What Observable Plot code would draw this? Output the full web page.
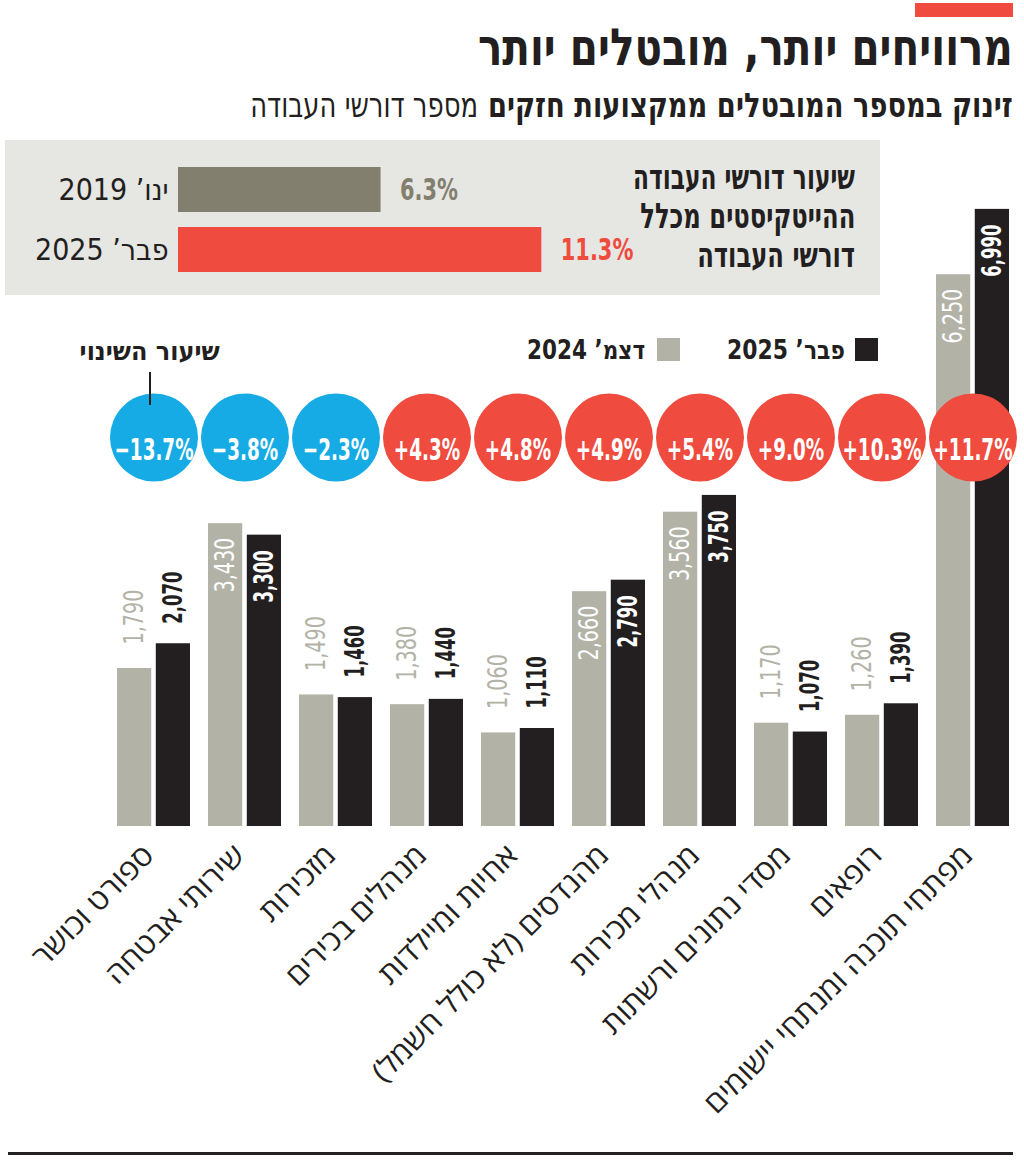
<!DOCTYPE html>
<html><head><meta charset="utf-8">
<script src="https://cdn.jsdelivr.net/npm/d3@7"></script>
<script src="https://cdn.jsdelivr.net/npm/@observablehq/plot@0.6"></script>
<style>
body{margin:0;background:#fff;}
#page{position:relative;width:1024px;height:1160px;overflow:hidden;background:#fff;font-family:"DejaVu Sans Condensed","DejaVu Sans",sans-serif;color:#231f20}
.abs{position:absolute;white-space:nowrap;direction:rtl;}
.fitr{transform-origin:right center;}
</style></head><body>
<div id="page">
  <div id="chart" style="position:absolute;left:0;top:130px"></div>
  <div style="position:absolute;left:915px;top:3px;width:98px;height:14px;background:#ef4b3f"></div>
  <div id="title" class="abs fitr" style="right:11px;top:23px;font-size:51px;font-weight:bold;line-height:50px">מרוויחים יותר, מובטלים יותר</div>
  <div id="sub1" class="abs fitr" style="right:11px;top:87px;font-size:34px;font-weight:bold;line-height:36px">זינוק במספר המובטלים ממקצועות חזקים</div>
  <div id="sub2" class="abs fitr" style="right:546px;top:87px;font-size:34px;line-height:36px">מספר דורשי העבודה</div>
  <div id="box" style="position:absolute;left:5px;top:140px;width:875px;height:155px;background:#e6e6e3">
    <div id="boxplot" style="position:absolute;left:0;top:0"></div>
    <div id="b1" class="abs fitr" style="right:25px;top:17px;font-size:35px;font-weight:bold;line-height:40px">שיעור דורשי העבודה</div>
    <div id="b2" class="abs fitr" style="right:25px;top:56px;font-size:35px;font-weight:bold;line-height:40px">ההייטקיסטים מכלל</div>
    <div id="b3" class="abs fitr" style="right:25px;top:95px;font-size:35px;font-weight:bold;line-height:40px">דורשי העבודה</div>
  </div>
  <div style="position:absolute;left:855px;top:338px;width:23px;height:23px;background:#231f20"></div>
  <div id="lg2" class="abs fitr" style="right:179px;top:335px;font-size:26px;font-weight:bold;line-height:30px"></div>
  <div style="position:absolute;left:657px;top:338px;width:23px;height:23px;background:#b3b2a7"></div>
  <div id="lg1" class="abs fitr" style="right:379px;top:335px;font-size:26px;font-weight:bold;line-height:30px"></div>
  <div id="chg" class="abs fitr" style="right:804px;top:336px;font-size:26px;font-weight:bold;line-height:30px">שיעור השינוי</div>
  <div style="position:absolute;left:149px;top:372px;width:2px;height:33px;background:#231f20"></div>
  <div style="position:absolute;left:8px;top:1152px;width:1005px;height:3px;background:#231f20"></div>
</div>
<script>
// ---- data ----
const categories = ["ספורט וכושר","שירותי אבטחה","מזכירות","מנהלים בכירים","אחיות ומיילדות","מהנדסים (לא כולל חשמל)","מנהלי מכירות","מסדי נתונים ורשתות","רופאים","מפתחי תוכנה ומנתחי יישומים"];
const dec2024 = [1790, 3430, 1490, 1380, 1060, 2660, 3560, 1170, 1260, 6250];
const feb2025 = [2070, 3300, 1460, 1440, 1110, 2790, 3750, 1070, 1390, 6990];
const changePct = [-13.7, -3.8, -2.3, 4.3, 4.8, 4.9, 5.4, 9.0, 10.3, 11.7];
const seriesNames = ["דצמ’ 2024", "פבר’ 2025"];
const sharePeriods = ["ינו’ 2019", "פבר’ 2025"];
const shareValues = [6.3, 11.3];

const GRAY = "#b3b2a7", BLACK = "#231f20", BLUE = "#16abe4", RED = "#ef4b3f", OLIVE = "#827f6e";
const NARROW = "'DejaVu Sans Condensed',sans-serif";
const HEB = "'Open Sans','Liberation Sans','DejaVu Sans',sans-serif";
const rtl = s => "\u202B" + s + "\u202C";
const fmt = d3.format(",");
const fmtPct = v => (v < 0 ? "\u2212" : "+") + Math.abs(v).toFixed(1) + "%";

document.getElementById("lg1").textContent = seriesNames[0];
document.getElementById("lg2").textContent = seriesNames[1];

const rows0 = categories.map((c, i) => ({cat: c, value: dec2024[i]}));
const rows1 = categories.map((c, i) => ({cat: c, value: feb2025[i]}));
const changes = categories.map((c, i) => ({cat: c, change: changePct[i]}));

const W = 1024, ML = 112, MR = 11, PAD = 0.2;
const step = (W - ML - MR) / (categories.length - PAD);
const bw = step * (1 - PAD);
const inset = bw / 2 + 2;
const off = bw / 4 + 1;
const TH = 2500;

const chart = Plot.plot({
  width: W, height: 1030,
  marginLeft: ML, marginRight: MR, marginTop: 78, marginBottom: 334,
  x: {domain: categories, axis: null, paddingInner: PAD, paddingOuter: 0},
  y: {domain: [0, 7000], axis: null},
  style: {background: "transparent"},
  marks: [
    Plot.barY(rows0, {x: "cat", y: "value", fill: GRAY, insetRight: inset}),
    Plot.barY(rows1, {x: "cat", y: "value", fill: BLACK, insetLeft: inset}),
    Plot.text(rows0.filter(d => d.value >= TH), {x: "cat", y: "value", text: d => fmt(d.value), rotate: -90, textAnchor: "end", dx: -off, dy: 14, fill: "white", fontSize: 27, fontFamily: NARROW}),
    Plot.text(rows0.filter(d => d.value < TH), {x: "cat", y: "value", text: d => fmt(d.value), rotate: -90, textAnchor: "start", dx: -off, dy: -24, fill: GRAY, fontSize: 27, fontFamily: NARROW}),
    Plot.text(rows1.filter(d => d.value >= TH), {x: "cat", y: "value", text: d => fmt(d.value), rotate: -90, textAnchor: "end", dx: off, dy: 15, fill: "white", fontSize: 27, fontWeight: "bold", fontFamily: NARROW}),
    Plot.text(rows1.filter(d => d.value < TH), {x: "cat", y: "value", text: d => fmt(d.value), rotate: -90, textAnchor: "start", dx: off, dy: -20, fill: BLACK, fontSize: 27, fontWeight: "bold", fontFamily: NARROW}),
    Plot.dot(changes.filter(d => d.change < 0), {x: "cat", r: 44, fill: BLUE, frameAnchor: "top", dy: 229}),
    Plot.dot(changes.filter(d => d.change >= 0), {x: "cat", r: 44, fill: RED, frameAnchor: "top", dy: 229}),
    Plot.text(changes, {x: "cat", text: d => fmtPct(d.change), frameAnchor: "top", dy: 230, fill: "white", fontSize: 30, fontWeight: "bold", fontFamily: NARROW}),
    Plot.text(categories, {x: d => d, text: d => rtl(d), frameAnchor: "bottom", rotate: -45, textAnchor: "end", lineAnchor: "top", dx: -13, dy: 16, fill: BLACK, fontSize: 29, fontFamily: HEB})
  ]
});
document.getElementById("chart").appendChild(chart);

const shares = sharePeriods.map((p, i) => ({period: p, value: shareValues[i]}));
const BX0 = 173, PX = 363.3 / 11.3;
const box = Plot.plot({
  width: 875, height: 155,
  marginLeft: BX0, marginRight: 875 - BX0 - PX * 11.3, marginTop: 12, marginBottom: 8,
  x: {domain: [0, 11.3], axis: null},
  y: {domain: sharePeriods, padding: 0.25, tickSize: 0, tickPadding: 10, tickFormat: rtl, label: null},
  style: {background: "transparent", fontSize: "30px", fontFamily: "'DejaVu Sans Condensed',sans-serif", color: BLACK},
  marks: [
    Plot.barX(shares.slice(0, 1), {y: "period", x: "value", fill: OLIVE}),
    Plot.barX(shares.slice(1), {y: "period", x: "value", fill: RED}),
    Plot.text(shares.slice(0, 1), {y: "period", x: "value", text: d => d.value + "%", dx: 19, textAnchor: "start", fill: OLIVE, fontSize: 31, fontWeight: "bold", fontFamily: NARROW}),
    Plot.text(shares.slice(1), {y: "period", x: "value", text: d => d.value + "%", dx: 19, textAnchor: "start", fill: RED, fontSize: 31, fontWeight: "bold", fontFamily: NARROW})
  ]
});
document.getElementById("boxplot").appendChild(box);

// condense / widen SVG text to emulate the original faces
function condense(g, k) {
  g.querySelectorAll("text").forEach(t => {
    const L = t.getComputedTextLength();
    t.setAttribute("textLength", (L * k).toFixed(1));
    t.setAttribute("lengthAdjust", "spacingAndGlyphs");
  });
}
function squeeze(g, k) {
  g.querySelectorAll("text").forEach(t => {
    const tr = t.getAttribute("transform");
    if (tr) t.setAttribute("transform", tr + " scale(" + k + ",1)");
    else condense({querySelectorAll: () => [t]}, k);
  });
}
const tg = chart.querySelectorAll('g[aria-label="text"]');
[0.79, 0.79, 0.68, 0.68].forEach((k, i) => condense(tg[i], k));
squeeze(tg[4], 0.68);
condense(tg[5], 1.08);
box.querySelectorAll('g[aria-label="text"]').forEach(g => squeeze(g, 0.75));

function fit(id, w) {
  const el = document.getElementById(id);
  const r = el.getBoundingClientRect().width;
  el.style.transform = "scaleX(" + (w / r).toFixed(3) + ")";
}
fit("title", 535); fit("sub1", 525); fit("sub2", 228);
fit("b1", 222); fit("b2", 215); fit("b3", 158);
fit("lg1", 118); fit("lg2", 118); fit("chg", 140);
</script>
</body></html>
